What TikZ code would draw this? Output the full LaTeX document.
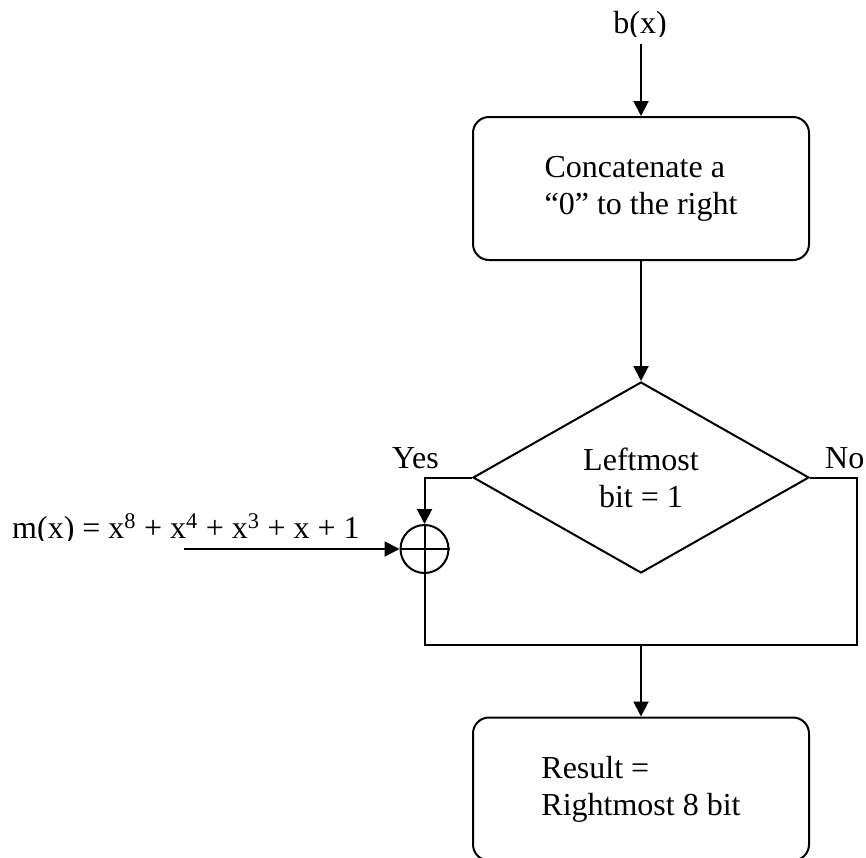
\documentclass[tikz,border=0pt]{standalone}
\usepackage{fontspec}
\setmainfont{Liberation Serif}
\usetikzlibrary{shapes.geometric,arrows.meta}

\begin{document}
\begin{tikzpicture}[x=1pt,y=-1pt,
  every node/.style={font=\fontsize{32}{37}\selectfont},
  line/.style={line width=2pt},
  arr/.style={line, -{Triangle[length=15pt,width=15pt]}},
  proc/.style={draw, line width=2pt, rounded corners=16pt,
    minimum width=336pt, minimum height=143pt, align=left, inner sep=0pt},
  decide/.style={draw, diamond, line width=2pt, aspect=1.76,
    minimum width=336pt, minimum height=191pt, align=center, inner sep=0pt},
  lbl/.style={inner sep=0pt, anchor=base west}]

  \useasboundingbox (0,0) rectangle (866,857);

  % processing steps
  \node[proc] (concat) at (641,188.5) {Concatenate a\\“0” to the right};
  \node[decide] (test) at (641,477.5) {Leftmost\\bit = 1};
  \node[proc] (result) at (641,789) {Result =\\Rightmost 8 bit};

  % XOR adder
  \node[circle, draw, line width=2pt, minimum size=48pt, inner sep=0pt] (xor) at (424.5,549) {};
  \draw[line] (xor.north) -- (xor.south) (xor.west) -- (xor.east);

  % input b(x)
  \begin{scope}
    \clip (0,0) rectangle (866,36);
    \node[inner sep=0pt, anchor=base] (bx) at (640,33) {b(x)};
  \end{scope}
  \coordinate (bxin) at (641,44);
  \draw[arr] (bxin) -- (concat.north);

  \draw[arr] (concat.south) -- (test.north);

  % branch labels
  \node[lbl] (yes) at (392,468) {Yes};
  \node[lbl] (no) at (825,468) {No};

  % Yes branch into the adder
  \draw[arr] (test.west) -| (xor.north);

  % modulus polynomial
  \begin{scope}
    \clip (0,400) rectangle (400,540);
    \node[lbl] (mx) at (12,538) {m(x) = x\textsuperscript{8} + x\textsuperscript{4} + x\textsuperscript{3} + x + 1};
  \end{scope}
  \coordinate (mxin) at (184,549);
  \draw[arr] (mxin) -- (xor.west);

  % merge both branches
  \coordinate (merge) at (641,645);
  \coordinate (rcorner) at (857,645);
  \draw[line] (xor.south) |- (rcorner) |- (test.east);
  \draw[arr] (merge) -- (result.north);
\end{tikzpicture}
\end{document}
